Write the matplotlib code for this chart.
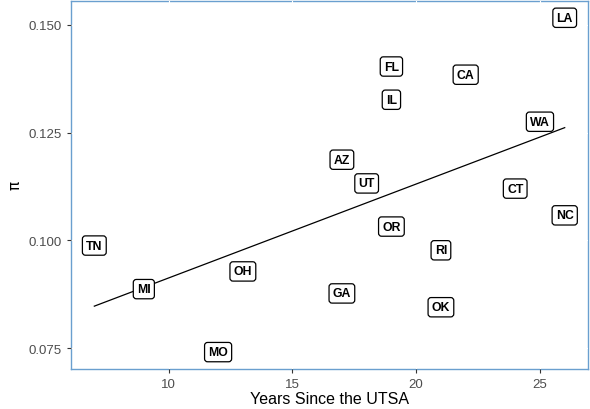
import numpy as np
import matplotlib
matplotlib.use("Agg")
import matplotlib.pyplot as plt

# state, years since UTSA, pi
states = ["LA", "FL", "CA", "IL", "WA", "AZ", "UT", "CT", "NC",
          "TN", "OR", "RI", "OH", "MI", "GA", "OK", "MO"]
years = [26, 19, 22, 19, 25, 17, 18, 24, 26,
         7, 19, 21, 13, 9, 17, 21, 12]
pi_vals = [0.1516, 0.1403, 0.1384, 0.1326, 0.1275, 0.1187, 0.1132, 0.1120, 0.1058,
           0.0988, 0.1032, 0.0977, 0.0928, 0.0887, 0.0877, 0.0845, 0.0741]

x_ticks = [10, 15, 20, 25]
y_ticks = [0.075, 0.100, 0.125, 0.150]

plt.rcParams["font.family"] = ["Liberation Sans", "DejaVu Sans"]

fig, ax = plt.subplots(figsize=(5.9, 4.1), dpi=100)
fig.subplots_adjust(left=0.12, right=0.997, top=0.995, bottom=0.098)

# linear fit line
x = np.array(years, dtype=float)
y = np.array(pi_vals)
b, a = np.polyfit(x, y, 1)
xs = np.array([x.min(), x.max()])
ax.plot(xs, a + b * xs, color="black", lw=0.9, zorder=2)

for s, xi, yi in zip(states, years, pi_vals):
    ax.text(xi, yi, s, ha="center", va="center", fontsize=8.8, fontweight="bold",
            zorder=3,
            bbox=dict(boxstyle="round,pad=0.3,rounding_size=0.25", fc="white",
                      ec="black", lw=0.9))

xr = x.max() - x.min()
yr = y.max() - y.min()
ax.set_xlim(x.min() - 0.05 * xr, x.max() + 0.05 * xr)
ax.set_ylim(y.min() - 0.05 * yr, y.max() + 0.05 * yr)
ax.set_xticks(x_ticks)
ax.set_yticks(y_ticks)
ax.set_yticklabels([f"{v:.3f}" for v in y_ticks])
ax.tick_params(colors="#333333", labelcolor="#4D4D4D", labelsize=9.5, length=3, width=0.8)

ax.grid(True, color="white", lw=0.8)
for sp in ax.spines.values():
    sp.set_color("#6A9FCF")
    sp.set_linewidth(1.0)
    sp.set_zorder(0)

ax.set_xlabel("Years Since the UTSA", fontsize=11.5, labelpad=1)
ax.set_ylabel("π", fontsize=11, family="DejaVu Sans")

fig.savefig("out.png", dpi=100)
